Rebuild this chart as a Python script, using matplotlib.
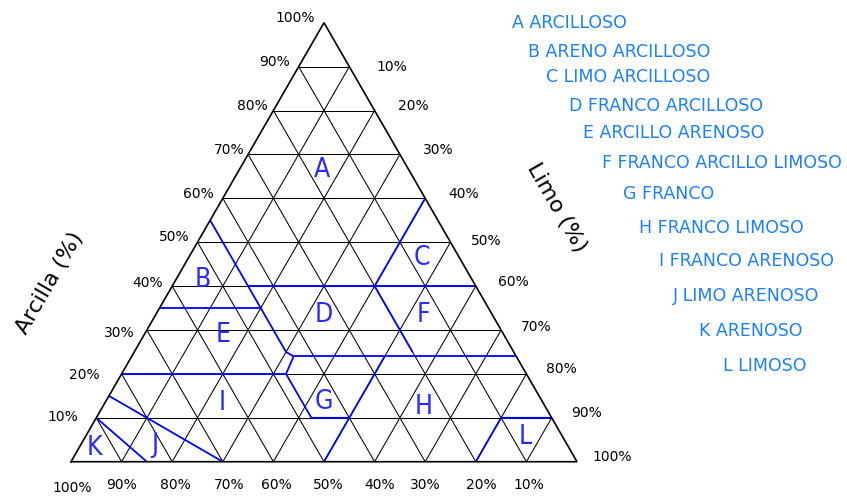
import numpy as np
import matplotlib
matplotlib.use("Agg")
import matplotlib.pyplot as plt

# ---------------- data ----------------
clay_ticks = [10, 20, 30, 40, 50, 60, 70, 80, 90, 100]
silt_ticks = [10, 20, 30, 40, 50, 60, 70, 80, 90, 100]
sand_ticks = [100, 90, 80, 70, 60, 50, 40, 30, 20, 10]
grid_steps = [10, 20, 30, 40, 50, 60, 70, 80, 90]

class_codes = ["A", "B", "C", "D", "E", "F", "G", "H", "I", "J", "K", "L"]
class_names = ["ARCILLOSO", "ARENO ARCILLOSO", "LIMO ARCILLOSO", "FRANCO ARCILLOSO",
               "ARCILLO ARENOSO", "FRANCO ARCILLO LIMOSO", "FRANCO", "FRANCO LIMOSO",
               "FRANCO ARENOSO", "LIMO ARENOSO", "ARENOSO", "LIMOSO"]
# where each class letter sits (clay %, silt %)
letter_clay = [66.4, 41.5, 46.4, 33.4, 28.9, 33.4, 13.7, 12.5, 13.3, 3.8, 3.05, 5.7]
letter_silt = [16.3, 5.2, 46.1, 33.2, 15.6, 52.9, 43.2, 63.5, 23.2, 14.6, 3.2, 86.9]

# class boundaries as (clay %, silt %) polylines
b_sand45_clay = [55, 25, 24, 20]
b_sand45_silt = [0, 30, 32, 32.5]
b_clay40_clay = [40, 40]
b_clay40_silt = [15, 60]
b_clay35_clay = [35, 35]
b_clay35_silt = [0, 20]
b_clay20_clay = [20, 20]
b_clay20_silt = [0, 32.5]
b_clay24_clay = [24, 24]
b_clay24_silt = [32, 76]
b_silt40_clay = [60, 40]
b_silt40_silt = [40, 40]
b_sand20_clay = [40, 25]
b_sand20_silt = [40, 55]
b_loam_clay = [20, 10, 10]
b_loam_silt = [32.5, 42.5, 50]
b_silt50_clay = [0, 24]
b_silt50_silt = [50, 50]
b_silt80_clay = [0, 10, 10]
b_silt80_silt = [80, 80, 90]
b_sand_clay = [10, 0]
b_sand_silt = [0, 15]
b_lsand_clay = [15, 0]
b_lsand_silt = [0, 30]

boundaries = [
    (b_sand45_clay, b_sand45_silt), (b_clay40_clay, b_clay40_silt),
    (b_clay35_clay, b_clay35_silt), (b_clay20_clay, b_clay20_silt),
    (b_clay24_clay, b_clay24_silt), (b_silt40_clay, b_silt40_silt),
    (b_sand20_clay, b_sand20_silt), (b_loam_clay, b_loam_silt),
    (b_silt50_clay, b_silt50_silt), (b_silt80_clay, b_silt80_silt),
    (b_sand_clay, b_sand_silt), (b_lsand_clay, b_lsand_silt),
]

# ---------------- layout (pixel nudges for labels) ----------------
clay_lbl_dx = [-18, -21.6, -11.9, -8.9, -7.5, -9.5, -3.1, -5.7, -8.7, -9]
clay_lbl_dy = [-1, 1, 3.3, -2.8, -5, -4, -4.4, -4.5, -5, -4.4]
silt_lbl_dx = [27.4, 23.4, 22.6, 23.3, 20, 22.5, 19.7, 19.3, 19, 15.7]
silt_lbl_dy = [0.4, -4.5, -4.4, -4.3, -1.2, -4.4, -3.3, -5, -4.5, -4.4]
sand_lbl_dx = [0.7, 0.1, 2.8, 6.5, 3.3, 4.0, 5.4, -0.2, 5.9, 2.9]
sand_lbl_dy = [26.3, 23.3, 23.3, 23.3, 23.3, 23.3, 23.3, 23.3, 23.3, 23.3]
legend_px_x = [511.7, 528.3, 545.7, 569, 583.3, 601.7, 622.7, 639.3, 659.3, 673.3, 699.3, 722.7]
legend_px_y = [23.3, 52.3, 77.3, 106, 133.3, 163.3, 194.3, 228.3, 261, 296, 331, 366]

W, H = 847, 497
S3 = np.sqrt(3) / 2


def tern(clay, silt):
    clay = np.asarray(clay, dtype=float)
    silt = np.asarray(silt, dtype=float)
    return silt + clay / 2.0, clay * S3


fig = plt.figure(figsize=(W / 100, H / 100), dpi=100)
ax = fig.add_axes([0, 0, 1, 1])
ax.set_xlim(-14.03, 153.36)
ax.set_ylim(-6.96, 91.08)
ax.axis("off")

grid_kw = dict(color="black", lw=0.75, solid_capstyle="butt", zorder=1)
for g in grid_steps:
    # constant clay
    x, y = tern([g, g], [0, 100 - g])
    ax.plot(x, y, **grid_kw)
    # constant silt
    x, y = tern([0, 100 - g], [g, g])
    ax.plot(x, y, **grid_kw)
    # constant sand
    x, y = tern([0, 100 - g], [100 - g, 0])
    ax.plot(x, y, **grid_kw)

# outline
x, y = tern([0, 0, 100, 0], [0, 100, 0, 0])
ax.plot(x, y, color="black", lw=1.2, zorder=3, solid_joinstyle="miter")

# class boundaries
for bc, bs in boundaries:
    x, y = tern(bc, bs)
    ax.plot(x, y, color="#0000ff", lw=1.3, zorder=2, solid_capstyle="butt")

# class letters
for code, c, s in zip(class_codes, letter_clay, letter_silt):
    x, y = tern(c, s)
    ax.text(x, y, code, ha="center", va="center", color="#2b2bff",
            fontsize=19, family=["Liberation Sans Narrow", "DejaVu Sans"],
            fontstretch="condensed", zorder=4)

tick_font = dict(fontsize=10, color="black", family=["DejaVu Sans"])

for c, dx, dy in zip(clay_ticks, clay_lbl_dx, clay_lbl_dy):
    x, y = tern(c, 0)
    ax.annotate(f"{c}%", (x, y), xytext=(dx, -dy), textcoords="offset pixels",
                ha="right", va="center", **tick_font)
for s, dx, dy in zip(silt_ticks, silt_lbl_dx, silt_lbl_dy):
    x, y = tern(100 - s, s)
    ax.annotate(f"{s}%", (x, y), xytext=(dx, -dy), textcoords="offset pixels",
                ha="left", va="center", **tick_font)
for a, dx, dy in zip(sand_ticks, sand_lbl_dx, sand_lbl_dy):
    x, y = tern(0, 100 - a)
    ax.annotate(f"{a}%", (x, y), xytext=(dx, -dy), textcoords="offset pixels",
                ha="center", va="center", **tick_font)

# axis titles
fig.text(50 / W, 1 - 283 / H, "Arcilla (%)", rotation=60, rotation_mode="anchor",
         ha="center", va="center", fontsize=16, color="black")
fig.text(557 / W, 1 - 208 / H, "Limo (%)", rotation=-60, rotation_mode="anchor",
         ha="center", va="center", fontsize=16, color="black")

# legend
for code, name, lx, ly in zip(class_codes, class_names, legend_px_x, legend_px_y):
    fig.text(lx / W, 1 - ly / H, f"{code} {name}", ha="left", va="center",
             fontsize=12.5, color="#1f7ff5")

fig.savefig("out.png", dpi=100)
